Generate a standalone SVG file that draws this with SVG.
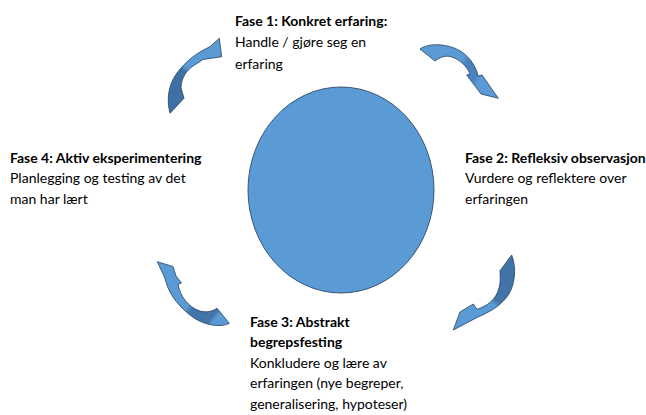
<svg xmlns="http://www.w3.org/2000/svg" width="646" height="415" viewBox="0 0 646 415">
<defs>
<style>
.t{font-family:Lato,"Open Sans","Liberation Sans",sans-serif;font-size:14px;fill:#000}
.b{font-weight:bold}
.arr{stroke:#24415f;stroke-width:0.8;stroke-linejoin:round}
</style>
<linearGradient id="gTL" gradientUnits="userSpaceOnUse" x1="176" y1="105" x2="213" y2="47">
<stop offset="0" stop-color="#3f70a5"/><stop offset="0.48" stop-color="#3f70a5"/><stop offset="0.55" stop-color="#5b9bd5"/><stop offset="1" stop-color="#5b9bd5"/>
</linearGradient>
<linearGradient id="gTR" gradientUnits="userSpaceOnUse" x1="420" y1="50" x2="496" y2="97">
<stop offset="0" stop-color="#5b9bd5"/><stop offset="0.45" stop-color="#5b9bd5"/><stop offset="0.52" stop-color="#4a82bd"/><stop offset="0.68" stop-color="#4a82bd"/><stop offset="0.75" stop-color="#5b9bd5"/><stop offset="1" stop-color="#5b9bd5"/>
</linearGradient>
<linearGradient id="gBR" gradientUnits="userSpaceOnUse" x1="510" y1="258" x2="460" y2="325">
<stop offset="0" stop-color="#4274a9"/><stop offset="0.5" stop-color="#4274a9"/><stop offset="0.57" stop-color="#5b9bd5"/><stop offset="1" stop-color="#5b9bd5"/>
</linearGradient>
<linearGradient id="gBL" gradientUnits="userSpaceOnUse" x1="160" y1="265" x2="226" y2="320">
<stop offset="0" stop-color="#5b9bd5"/><stop offset="0.55" stop-color="#5b9bd5"/><stop offset="0.62" stop-color="#4274a9"/><stop offset="0.85" stop-color="#4274a9"/><stop offset="0.9" stop-color="#5b9bd5"/><stop offset="1" stop-color="#5b9bd5"/>
</linearGradient>
</defs>

<g id="center">
<ellipse cx="341" cy="190" rx="93" ry="103" fill="#5b9bd5" stroke="#2e4a66" stroke-width="0.9"/>
</g>

<g id="connectors">
<path id="arrow-tl" class="arr" fill="url(#gTL)" d="M170,113.3 C166,98 169,84 177,73 C185,62 196,53 210,46.7 L219.3,38.3 L221.7,56.7 L203,59.5 L193,66 C187,70 181,78 181,88 L184,98.3 Z"/>
<path id="arrow-tr" class="arr" fill="url(#gTR)" d="M420,49 C430,42 450,44 462,52 C470,58 476,66 478,76 L482,75 L498.3,98.3 L481,94 L472,82 L466.7,75 L470,74 C467,66 460,60 452,57 C446,55 440,57 435,61 Z"/>
<path id="arrow-br" class="arr" fill="url(#gBR)" d="M511.7,255 C517,268 515,288 506,298 C498,308 487,313 476,318 L453.3,330 L460,312 L473.3,304 L477,309.3 C487,306 496,300 499,288 C501,280 500,275 500,270.7 Z"/>
<path id="arrow-bl" class="arr" fill="url(#gBL)" d="M157.3,261.7 L173,266.5 L176,276 L181.5,283 L178,284 C180,296 188,307 200,311 C208,313 213,311 217,308.3 L229.3,323.3 C220,328 205,325 194,318 C180,308 170,296 166,282 L164,276 Z"/>
</g>

<g id="fase1">
<text class="t b" x="235" y="25.5">Fase 1: Konkret erfaring:</text>
<text class="t" x="235" y="47">Handle / gjøre seg en</text>
<text class="t" x="235" y="68.5">erfaring</text>
</g>

<g id="fase2">
<text class="t b" x="465" y="162.5">Fase 2: Refleksiv observasjon</text>
<text class="t" x="465" y="183">Vurdere og reflektere over</text>
<text class="t" x="465" y="203.5">erfaringen</text>
</g>

<g id="fase3">
<text class="t b" x="250" y="326.5">Fase 3: Abstrakt</text>
<text class="t b" x="250" y="347">begrepsfesting</text>
<text class="t" x="250" y="367.5">Konkludere og lære av</text>
<text class="t" x="250" y="388">erfaringen (nye begreper,</text>
<text class="t" x="250" y="408.5">generalisering, hypoteser)</text>
</g>

<g id="fase4">
<text class="t b" x="10" y="162.5">Fase 4: Aktiv eksperimentering</text>
<text class="t" x="10" y="183">Planlegging og testing av det</text>
<text class="t" x="10" y="203.5">man har lært</text>
</g>
</svg>
